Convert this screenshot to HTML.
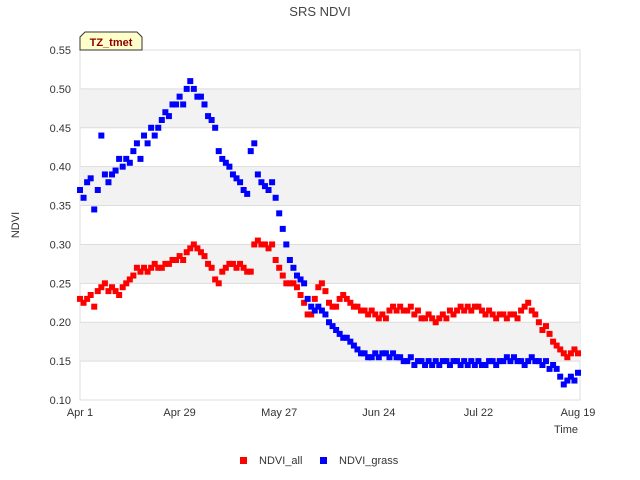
<!DOCTYPE html>
<html><head><meta charset="utf-8"><style>
body{margin:0;background:#fff;font-family:"Liberation Sans","DejaVu Sans",sans-serif;}
svg{display:block}
</style></head><body>
<svg id="chart" width="640" height="480">
<text x="320" y="16" text-anchor="middle" font-size="13" fill="#444">SRS NDVI</text>
<text transform="translate(19,225) rotate(-90)" text-anchor="middle" font-size="11" fill="#333">NDVI</text>
<text x="578" y="433" text-anchor="end" font-size="11" fill="#333">Time</text>
<g id="grid"></g><g id="marks"></g>
<g>
<path d="M80,50 L80,37 L85,32 L137,32 L142,37 L142,50 Z" fill="#ffffcc" stroke="#333"/>
<text x="111" y="46" text-anchor="middle" font-size="11" font-weight="bold" fill="#8b0000">TZ_tmet</text>
</g>
<g>
<rect x="240" y="457" width="7" height="7" fill="#f00"/>
<text x="259" y="464" font-size="11" fill="#333">NDVI_all</text>
<rect x="320" y="457" width="7" height="7" fill="#00f"/>
<text x="339" y="464" font-size="11" fill="#333">NDVI_grass</text>
</g>
</svg>
<script>
const yTicks=[0.10,0.15,0.20,0.25,0.30,0.35,0.40,0.45,0.50,0.55];
const xTickLabels=["Apr 1","Apr 29","May 27","Jun 24","Jul 22","Aug 19"];
const xTickDays=[0,28,56,84,112,140];
const grassValues=[0.37,0.36,0.38,0.385,0.345,0.37,0.44,0.39,0.38,0.39,
0.395,0.41,0.40,0.41,0.405,0.42,0.43,0.41,0.44,0.43,
0.45,0.44,0.45,0.46,0.47,0.465,0.48,0.48,0.49,0.48,
0.50,0.51,0.50,0.49,0.49,0.48,0.465,0.46,0.45,0.42,
0.41,0.405,0.40,0.39,0.385,0.38,0.37,0.365,0.42,0.43,
0.39,0.38,0.375,0.37,0.38,0.36,0.34,0.32,0.30,0.28,
0.27,0.26,0.255,0.25,0.23,0.22,0.215,0.22,0.215,0.21,
0.20,0.195,0.19,0.185,0.18,0.18,0.175,0.17,0.165,0.16,
0.16,0.155,0.155,0.16,0.155,0.16,0.16,0.155,0.16,0.155,
0.155,0.15,0.15,0.155,0.145,0.15,0.15,0.145,0.15,0.145,
0.15,0.145,0.15,0.15,0.145,0.15,0.15,0.145,0.15,0.145,
0.15,0.145,0.15,0.145,0.145,0.15,0.15,0.145,0.15,0.15,
0.155,0.15,0.155,0.15,0.15,0.145,0.15,0.155,0.15,0.15,
0.145,0.15,0.14,0.145,0.14,0.13,0.12,0.125,0.13,0.125,0.135];
const allValues=[0.23,0.225,0.23,0.235,0.22,0.24,0.245,0.25,0.24,0.245,
0.24,0.235,0.245,0.25,0.255,0.26,0.27,0.265,0.27,0.265,
0.27,0.275,0.27,0.27,0.275,0.275,0.28,0.28,0.285,0.28,
0.29,0.295,0.30,0.295,0.29,0.285,0.275,0.27,0.255,0.25,
0.265,0.27,0.275,0.275,0.27,0.275,0.27,0.265,0.265,0.30,
0.305,0.30,0.30,0.295,0.30,0.28,0.27,0.26,0.25,0.25,
0.25,0.245,0.235,0.225,0.21,0.21,0.23,0.245,0.25,0.24,
0.225,0.22,0.22,0.23,0.235,0.23,0.225,0.22,0.22,0.215,
0.215,0.21,0.215,0.21,0.205,0.21,0.205,0.215,0.22,0.215,
0.22,0.215,0.215,0.22,0.21,0.215,0.205,0.205,0.21,0.205,
0.2,0.205,0.21,0.205,0.215,0.21,0.215,0.22,0.215,0.22,
0.215,0.22,0.22,0.215,0.21,0.215,0.21,0.205,0.21,0.21,
0.205,0.21,0.21,0.205,0.215,0.22,0.225,0.215,0.21,0.20,
0.19,0.195,0.185,0.175,0.17,0.165,0.16,0.155,0.16,0.165,0.16];
const X0=80,X1=580,Y0=400,Y1=50;
const xScale=d=>X0+(d/140)*(578-X0);
const yScale=v=>Y0-(v-0.10)/0.45*(Y0-Y1);
const NS="http://www.w3.org/2000/svg";
const grid=document.getElementById('grid'),marks=document.getElementById('marks');
function mk(tag,attrs,parent){const e=document.createElementNS(NS,tag);for(const k in attrs)e.setAttribute(k,attrs[k]);parent.appendChild(e);return e;}
const bg=mk('rect',{x:X0,y:Y1,width:X1-X0,height:Y0-Y1,fill:'#fff',stroke:'#ddd'},grid);


for(let i=0;i<yTicks.length-1;i++){
 if(i%2===1){const b=mk('rect',{x:X0,y:yScale(yTicks[i+1]),width:X1-X0,height:yScale(yTicks[i])-yScale(yTicks[i+1]),fill:'#f2f2f2'},grid);
 
 }
}
yTicks.forEach(v=>{
 const l=mk('line',{x1:X0,x2:X1,y1:yScale(v),y2:yScale(v),stroke:'#ddd'},grid);
 
 
 const t=mk('text',{x:X0-9,y:yScale(v)+4,'text-anchor':'end','font-size':11,fill:'#333'},grid);
 t.textContent=v.toFixed(2);
 
 
});
xTickDays.forEach((d,i)=>{
 const t=mk('text',{x:xScale(d),y:416,'text-anchor':'middle','font-size':11,fill:'#333'},grid);
 t.textContent=xTickLabels[i];
 
 
});
function series(vals,color,name){
 vals.forEach((v,d)=>{
  const r=mk('rect',{x:xScale(d)-3,y:yScale(v)-3,width:6,height:6,fill:color},marks);
  
  
 });
}
series(allValues,'#f00','point-ndvi-all');
series(grassValues,'#00f','point-ndvi-grass');
</script>
</body></html>
